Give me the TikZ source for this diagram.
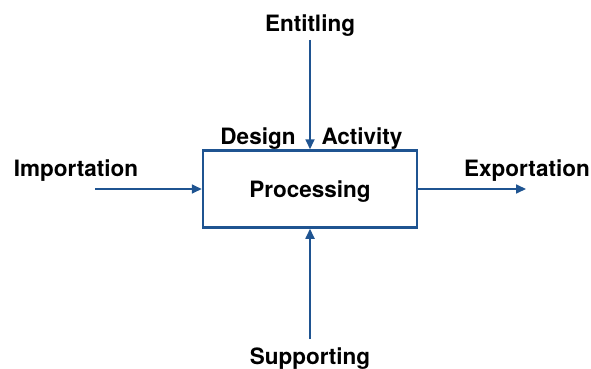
\documentclass[tikz,border=0pt]{standalone}
\usepackage{fontspec}
\setmainfont{TeX Gyre Heros}
\usetikzlibrary{arrows.meta}

\definecolor{flowblue}{RGB}{31,84,145}

\begin{document}
\begin{tikzpicture}[x=1pt,y=-1pt,
  label/.style={font=\bfseries\fontsize{22.5}{26}\selectfont, inner sep=0pt, text depth=0pt},
  flow/.style={flowblue, line width=1.7pt, -{Triangle[length=10pt,width=9pt]}}]
% Frame
\useasboundingbox (0,0) rectangle (591,369);

% Central box
\node[draw=flowblue, line width=2.5pt, minimum width=214pt, minimum height=77pt,
      label] (proc) at (310,189) {Processing};

% Labels
\node[label] (entitle) at (310,23) {Entitling};
\node[label] (support) at (310,356) {Supporting};
\node[label] (import) at (76,168) {Importation};
\node[label] (export) at (527,168) {Exportation};
\node[label] (design) at (258,136) {Design};
\node[label] (activity) at (362,136) {Activity};

% Free ends of the arrows
\coordinate (topend) at (310,40);
\coordinate (botend) at (310,339);
\coordinate (leftend) at (95,189);
\coordinate (rightend) at (526,189);

% Arrows
\draw[flow] (topend) -- (proc.north);
\draw[flow] (botend) -- (proc.south);
\draw[flow] (leftend) -- (proc.west);
\draw[flow] (proc.east) -- (rightend);

\end{tikzpicture}
\end{document}
